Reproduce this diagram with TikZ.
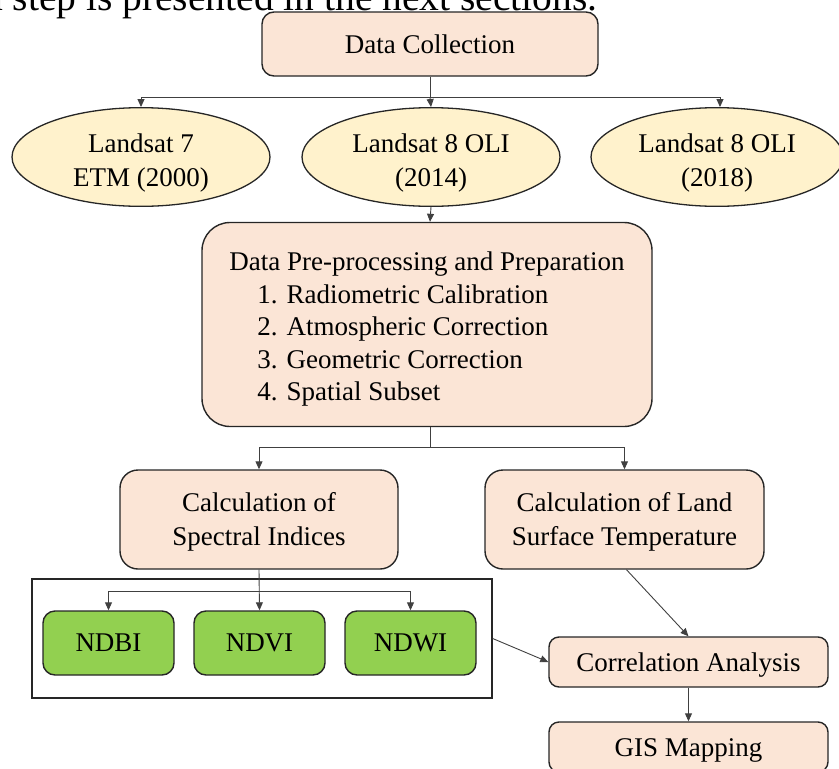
\documentclass[tikz,border=0pt]{standalone}
\usepackage{fontspec}
\setmainfont{Liberation Serif}
\usetikzlibrary{shapes.geometric,arrows.meta,calc}
\definecolor{peach}{HTML}{FBE5D6}
\definecolor{cream}{HTML}{FFF2CC}
\definecolor{leaf}{HTML}{92D050}
\definecolor{edge}{HTML}{262626}
\definecolor{wire}{HTML}{404040}
\newcommand\topstrut[1]{\rule{0pt}{#1}}
\tikzset{
  txt/.style={font=\fontsize{27}{34}\selectfont, align=center, inner sep=0pt},
  pbox/.style={txt, draw=edge, line width=1.4pt, fill=peach, rounded corners=#1},
  pbox/.default=14pt,
  oval/.style={txt, ellipse, draw=edge, line width=1.3pt, fill=cream, minimum width=258pt, minimum height=80pt},
  gbox/.style={txt, draw=edge, line width=1.4pt, fill=leaf, rounded corners=12pt, minimum width=131pt, minimum height=64pt},
  frame/.style={draw=edge, line width=1.4pt, minimum width=460pt, minimum height=119pt, inner sep=0pt},
  link/.style={draw=wire, line width=0.9pt, -{Triangle[length=8pt,width=7pt]}},
  plain/.style={draw=wire, line width=0.9pt},
}
\begin{document}
\begin{tikzpicture}[x=1pt,y=-1pt]
\useasboundingbox (0,0) rectangle (839,769);
\clip (0,0) rectangle (839,769);

% cut-off caption text at the top
\node[anchor=base west, inner sep=0pt, font=\fontsize{39.5}{47}\selectfont] (cap) at (-17,10) {h step is presented in the next sections.};

% nodes
\node[pbox=12pt, minimum width=336pt, minimum height=64pt] (dc) at (430,44) {Data Collection};

\node[oval] (e1) at (141,157) {\topstrut{30pt}Landsat 7\\ETM (2000)};
\node[oval] (e2) at (431,157) {\topstrut{30pt}Landsat 8 OLI\\(2014)};
\node[oval, minimum width=252pt] (e3) at (717,157) {\topstrut{30pt}Landsat 8 OLI\\(2018)};

\node[pbox=28pt, minimum width=450pt, minimum height=204pt, align=left, font=\fontsize{27}{32.5}\selectfont] (prep) at (427,324.5)
  {\topstrut{28.5pt}Data Pre-processing and Preparation\\
   \hspace*{28pt}1. Radiometric Calibration\\
   \hspace*{28pt}2. Atmospheric Correction\\
   \hspace*{28pt}3. Geometric Correction\\
   \hspace*{28pt}4. Spatial Subset};

\node[pbox=18pt, minimum width=278pt, minimum height=99pt] (cs) at (259,519.5) {\topstrut{23.5pt}Calculation of\\Spectral Indices};
\node[pbox=18pt, minimum width=279pt, minimum height=99pt] (lst) at (624.5,519.5) {\topstrut{23.5pt}Calculation of Land\\Surface Temperature};

\node[frame] (fr) at (262,638.5) {};
\node[gbox] (ndbi) at (108.5,643) {NDBI};
\node[gbox] (ndvi) at (259.5,643) {NDVI};
\node[gbox] (ndwi) at (410.5,643) {NDWI};

\node[pbox=10pt, minimum width=279pt, minimum height=50pt] (corr) at (688.5,662) {\topstrut{24pt}Correlation Analysis};
\node[pbox=10pt, minimum width=279pt, minimum height=50pt] (gis) at (688.5,747) {\topstrut{24pt}GIS Mapping};

% connectors
\coordinate (j1) at (430,97);
\draw[plain] (dc.south) -- (j1);
\draw[link] (j1) -| (e1.north);
\draw[link] (j1) -- (e2.north);
\draw[link] (j1) -| ($(e3.north)+(3,0)$);

\draw[link] (e2.south) -- ($(prep.north)+(3,0)$);

\coordinate (j2) at (430,447);
\draw[plain] ($(prep.south)+(3,0)$) -- (j2);
\draw[link] (j2) -| (cs.north);
\draw[link] (j2) -| (lst.north);

\coordinate (j3) at (259.5,591);
\draw[link] (cs.south) -- (ndvi.north);
\draw[link] (j3) -| (ndbi.north);
\draw[link] (j3) -| (ndwi.north);

\draw[link] ($(lst.south)+(2,0)$) -- (corr.north);
\draw[link] (fr.east) -- (corr.west);
\draw[link] (corr.south) -- (gis.north);
\end{tikzpicture}
\end{document}
